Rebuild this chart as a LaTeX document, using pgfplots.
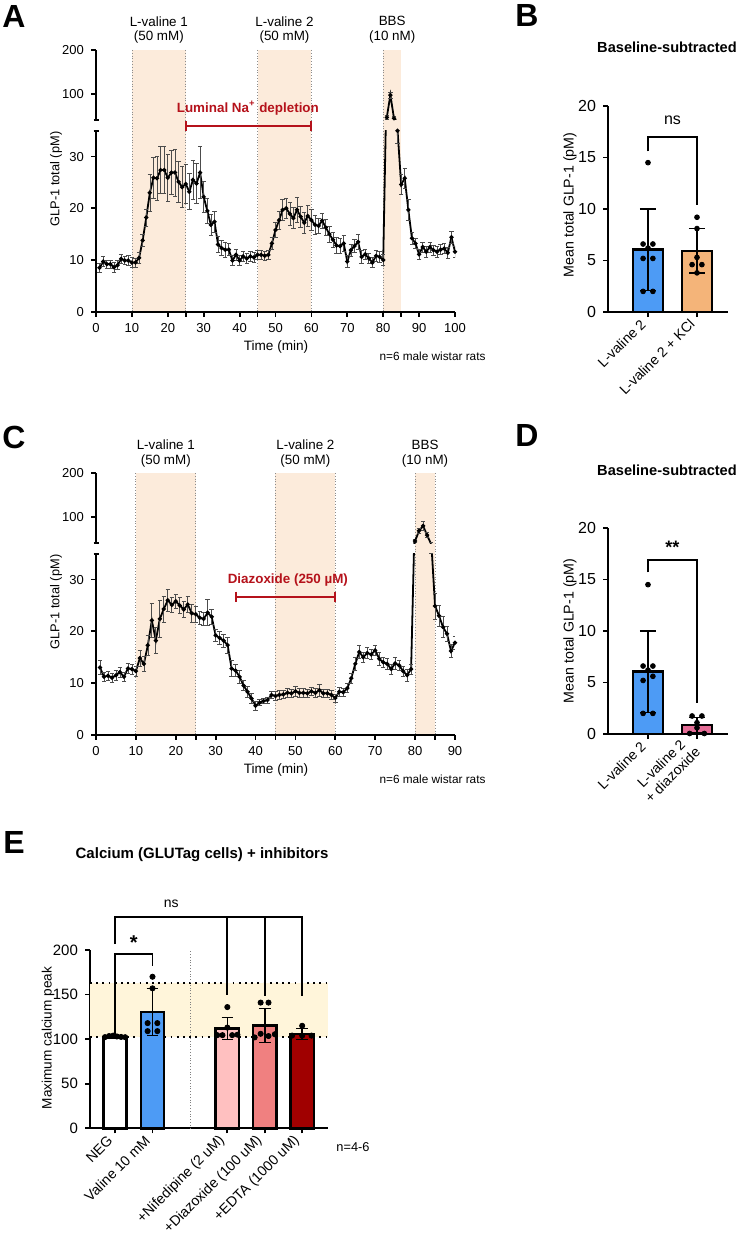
\documentclass[border=0pt]{standalone}
\usepackage{fontspec}
\setmainfont{Liberation Sans}
\usepackage{pgfplots}
\pgfplotsset{compat=1.18}
\usepackage{pgfplotstable}

\definecolor{band}{HTML}{FCEBDB}
\definecolor{redann}{HTML}{B5121B}
\definecolor{cBlue}{HTML}{4D9BF5}
\definecolor{cOrange}{HTML}{F4B479}
\definecolor{cPink}{HTML}{E46C96}
\definecolor{cNif}{HTML}{FFC0C0}
\definecolor{cDia}{HTML}{F08080}
\definecolor{cEDTA}{HTML}{A00000}
\definecolor{cYel}{HTML}{FFF5DA}
\newcommand\fs[2]{\fontsize{#1}{#2}\selectfont}

% panel A: luminal Na+ depletion, mean +- SEM per minute
\pgfplotstableread{
t v e
1 8.5 0.8
2 9.7 1.0
3 9.2 0.8
4 9.2 0.8
5 8.6 1.0
6 9.0 0.9
7 10.2 0.9
8 9.9 0.8
9 9.9 0.9
10 9.5 1.0
11 9.5 0.9
12 10.4 1.0
13 13.8 1.2
14 18.2 1.6
15 23.0 3.5
16 25.9 4.0
17 25.8 4.2
18 27.4 4.6
19 27.4 4.5
20 25.9 4.5
21 26.9 4.3
22 26.9 4.5
23 25.1 4.0
24 24.1 4.0
25 24.7 3.8
26 23.2 3.5
27 25.5 3.8
28 24.8 3.8
29 26.9 5.0
30 22.2 3.0
31 19.5 2.5
32 16.8 2.0
33 17.4 2.0
34 13.0 1.5
35 12.3 1.5
36 12.0 1.5
37 12.0 1.2
38 9.9 1.0
39 11.0 1.0
40 9.9 1.0
41 10.7 1.0
42 10.3 1.0
43 10.7 1.0
44 10.5 0.9
45 11.0 0.9
46 11.0 0.8
47 10.8 0.8
48 11.0 0.8
49 13.2 1.2
50 15.8 1.5
51 17.7 1.8
52 19.7 2.0
53 20.0 2.0
54 18.9 2.2
55 18.1 2.0
56 19.7 2.4
57 18.4 2.0
58 17.2 2.0
59 18.5 2.0
60 17.7 2.0
61 16.8 1.8
62 16.6 1.5
63 17.6 1.5
64 16.3 1.5
65 15.0 1.5
66 13.9 1.5
67 12.8 1.5
68 12.7 1.5
69 13.2 1.5
70 9.7 1.2
71 11.9 1.2
72 12.7 1.2
73 13.5 1.5
74 10.6 1.2
75 11.1 1.0
76 10.3 1.0
77 9.5 1.0
78 10.8 1.0
79 10.6 1.0
80 10.0 1.0
81 46 4
82 97 7
83 44 4
84 35 2.5
85 24.6 2.0
86 25.8 2.0
87 19.7 2.0
88 14.2 1.2
89 13.2 1.0
90 11.1 1.0
91 12.5 1.0
92 11.6 1.0
93 12.5 1.0
94 11.9 1.0
95 11.6 1.0
96 12.0 1.0
97 12.2 1.0
98 11.4 1.0
99 14.4 1.2
100 11.6 1.0
}\dataA

% panel C: diazoxide
\pgfplotstableread{
t v e
1 13.0 1.3
2 11.2 0.8
3 11.4 0.9
4 11.0 0.8
5 11.5 0.9
6 12.1 1.0
7 11.2 0.9
8 12.8 1.0
9 12.7 1.0
10 12.3 1.0
11 14.8 1.5
12 13.7 1.5
13 17.3 2.0
14 22.1 3.3
15 18.2 2.5
16 22.4 3.5
17 24.3 2.5
18 26.0 2.2
19 25.1 1.5
20 25.8 1.3
21 25.0 1.5
22 24.2 1.5
23 25.2 1.5
24 23.5 1.8
25 23.3 1.5
26 22.6 1.2
27 22.4 1.2
28 23.6 2.5
29 22.8 1.5
30 19.2 1.2
31 18.7 1.2
32 18.2 1.3
33 17.3 1.5
34 12.8 1.5
35 12.4 1.2
36 11.2 1.2
37 9.5 1.0
38 8.3 1.0
39 7.0 1.0
40 5.6 0.8
41 6.2 0.6
42 6.5 0.5
43 6.7 0.6
44 7.7 0.6
45 7.5 0.8
46 7.7 0.8
47 7.8 0.8
48 8.1 0.9
49 8.0 0.8
50 8.4 0.9
51 8.1 0.8
52 8.1 0.8
53 8.0 0.8
54 8.4 0.8
55 8.1 0.8
56 8.6 1.2
57 8.0 0.8
58 8.0 0.8
59 7.7 0.8
60 7.1 0.8
61 8.3 0.9
62 8.2 0.8
63 9.0 0.9
64 10.9 1.0
65 13.7 1.2
66 16.0 1.2
67 15.0 1.0
68 15.8 1.0
69 15.5 1.0
70 16.3 1.0
71 14.7 1.2
72 14.0 1.0
73 13.7 1.0
74 12.7 1.0
75 13.8 1.2
76 13.4 1.0
77 12.3 1.0
78 11.5 1.2
79 12.7 1.0
80 44.6 3
81 68 6
82 79 10
83 58 6
84 38 3
85 24.9 2.5
86 23.0 2.0
87 20.8 2.0
88 19.5 1.5
89 16.2 1.2
90 17.8 1.2
}\dataC

\pgfplotsset{
  base/.style={scale only axis, anchor=south west, tick align=outside,
    major tick length=2.5pt, tick style={black, line width=0.9pt},
    axis line style={black, line width=0.9pt},
    /pgf/number format/assume math mode=true},
  ts/.style={base, width=179.5pt, tick label style={font=\fs{6.5}{8}}},
  band/.style={scale only axis, anchor=south west, width=179.5pt, height=130.85pt,
    y dir=reverse, hide axis, clip=false},
  tsdata/.style={black, line width=0.9pt, mark=*, mark size=0.55pt,
    error bars/y dir=both, error bars/y explicit,
    error bars/error bar style={line width=0.35pt, black!70},
    error bars/error mark options={rotate=90, mark size=1.1pt, line width=0.35pt, black!70}},
  bar/.style={ybar, bar shift=0pt, draw=black, line width=1.2pt,
    error bars/y dir=both, error bars/y explicit,
    error bars/error bar style={line width=0.8pt, black},
    error bars/error mark options={rotate=90, mark size=4pt, line width=0.8pt, black}},
  dots/.style={only marks, mark=*, mark size=1.2pt, black},
}

\begin{document}
\begin{tikzpicture}[x=0.5pt,y=-0.5pt]
\useasboundingbox (0,0) rectangle (750,1235);

% ---------------- A ----------------
\begin{axis}[band, at={(48pt,-155.85pt)}, xmin=0, xmax=100, ymin=50, ymax=311.7]
\addplot[fill=band, draw=none] coordinates {(10,50) (25,50) (25,311.7) (10,311.7)};
\addplot[fill=band, draw=none] coordinates {(45,50) (60,50) (60,311.7) (45,311.7)};
\addplot[fill=band, draw=none] coordinates {(80,50) (85,50) (85,311.7) (80,311.7)};
\foreach \xx in {10,25,45,60,80}{
  \edef\tmp{\noexpand\addplot[densely dotted, black!45, line width=0.4pt] coordinates {(\xx,50) (\xx,311.7)};}\tmp}
\node[font=\fs{6.7}{7.3}, align=center] at (axis cs:17.5,30) {L-valine 1\\(50 mM)};
\node[font=\fs{6.7}{7.3}, align=center] at (axis cs:52.5,30) {L-valine 2\\(50 mM)};
\node[font=\fs{6.7}{7.3}, align=center] at (axis cs:82.5,30) {BBS\\(10 nM)};
\draw[redann, line width=1pt] (axis cs:25,126) -- (axis cs:60,126)
  (axis cs:25,121) -- (axis cs:25,131) (axis cs:60,121) -- (axis cs:60,131);
\node[redann, font=\bfseries\fs{6.7}{8}] at (axis cs:42.3,108) {Luminal Na\textsuperscript{+} depletion};
\end{axis}

\begin{axis}[ts, at={(48pt,-155.85pt)}, height=90.5pt, xmin=0, xmax=100, ymin=0, ymax=35,
  axis x line*=bottom, axis y line*=left, xtick={0,10,...,100}, ytick={0,10,20,30},
  extra x ticks={25,45,85}, extra x tick labels={},
  extra y ticks={35}, extra y tick labels={}, extra y tick style={tick align=center}]
\addplot[tsdata] table[x=t, y=v, y error=e] {\dataA};
\end{axis}
\begin{axis}[ts, at={(48pt,-60pt)}, height=35pt, xmin=0, xmax=100, ymin=40, ymax=200,
  axis x line=none, axis y line*=left, xtick=\empty, ytick={100,200},
  extra y ticks={40}, extra y tick labels={}, extra y tick style={tick align=center}]
\addplot[tsdata] table[x=t, y=v, y error=e] {\dataA};
\end{axis}

% ---------------- C ----------------
\begin{axis}[band, at={(48pt,-367.35pt)}, xmin=0, xmax=90, ymin=473, ymax=734.7]
\addplot[fill=band, draw=none] coordinates {(10,473) (25,473) (25,734.7) (10,734.7)};
\addplot[fill=band, draw=none] coordinates {(45,473) (60,473) (60,734.7) (45,734.7)};
\addplot[fill=band, draw=none] coordinates {(80,473) (85,473) (85,734.7) (80,734.7)};
\foreach \xx in {10,25,45,60,80,85}{
  \edef\tmp{\noexpand\addplot[densely dotted, black!45, line width=0.4pt] coordinates {(\xx,473) (\xx,734.7)};}\tmp}
\node[font=\fs{6.7}{7.3}, align=center] at (axis cs:17.5,453.5) {L-valine 1\\(50 mM)};
\node[font=\fs{6.7}{7.3}, align=center] at (axis cs:52.5,453.5) {L-valine 2\\(50 mM)};
\node[font=\fs{6.7}{7.3}, align=center] at (axis cs:82.5,453.5) {BBS\\(10 nM)};
\draw[redann, line width=1pt] (axis cs:35,596.7) -- (axis cs:60,596.7)
  (axis cs:35,591.7) -- (axis cs:35,601.7) (axis cs:60,591.7) -- (axis cs:60,601.7);
\node[redann, font=\bfseries\fs{6.7}{8}] at (axis cs:48.1,580) {Diazoxide (250 µM)};
\end{axis}

\begin{axis}[ts, at={(48pt,-367.35pt)}, height=90.5pt, xmin=0, xmax=90, ymin=0, ymax=35,
  axis x line*=bottom, axis y line*=left, xtick={0,10,...,90}, ytick={0,10,20,30},
  extra x ticks={25,45,85}, extra x tick labels={},
  extra y ticks={35}, extra y tick labels={}, extra y tick style={tick align=center}]
\addplot[tsdata] table[x=t, y=v, y error=e] {\dataC};
\end{axis}
\begin{axis}[ts, at={(48pt,-271.5pt)}, height=35pt, xmin=0, xmax=90, ymin=40, ymax=200,
  axis x line=none, axis y line*=left, xtick=\empty, ytick={100,200},
  extra y ticks={40}, extra y tick labels={}, extra y tick style={tick align=center}]
\addplot[tsdata] table[x=t, y=v, y error=e] {\dataC};
\end{axis}

% ---------------- B ----------------
\begin{axis}[base, at={(304pt,-156pt)}, width=60pt, height=103pt, axis lines*=left, clip=false,
  xmin=-0.816, xmax=1.633, ymin=0, ymax=20, ytick={0,5,...,20}, xtick={0,1},
  xticklabels={L-valine 2, L-valine 2 + KCl},
  tick label style={font=\fs{8}{9.5}},
  xticklabel style={rotate=45, anchor=east, font=\fs{7}{8}}]
\addplot[bar, fill=cBlue, /pgf/bar width=15pt] coordinates {(0,6.05) +- (0,3.95)};
\addplot[bar, fill=cOrange, /pgf/bar width=15pt] coordinates {(1,5.95) +- (0,2.15)};
\addplot[dots] coordinates {(0,14.5) (-0.1,6.6) (0.1,6.6) (0,6.2) (-0.1,5.2) (0.1,5.2) (-0.1,2.0) (0.1,2.0)};
\addplot[dots] coordinates {(1,9.2) (1,8.1) (1,5.3) (0.9,4.6) (1.1,4.6) (1,3.8)};
\draw[line width=0.9pt] (axis cs:0,15.6) |- (axis cs:1,17) -- (axis cs:1,10.4);
\node[font=\fs{8}{9}] at (axis cs:0.5,18.6) {ns};
\end{axis}

% ---------------- D ----------------
\begin{axis}[base, at={(304pt,-367pt)}, width=60pt, height=103pt, axis lines*=left, clip=false,
  xmin=-0.816, xmax=1.633, ymin=0, ymax=20, ytick={0,5,...,20}, xtick={0,1},
  xticklabels={L-valine 2, {L-valine 2\\+ diazoxide}},
  tick label style={font=\fs{8}{9.5}},
  xticklabel style={rotate=45, anchor=east, align=center, font=\fs{7}{8}}]
\addplot[bar, fill=cBlue, /pgf/bar width=15pt] coordinates {(0,6.05) +- (0,3.95)};
\addplot[bar, fill=cPink, /pgf/bar width=15pt] coordinates {(1,0.85) +- (0,0.75)};
\addplot[dots] coordinates {(0,14.5) (-0.1,6.6) (0.1,6.6) (0,6.2) (0.1,5.6) (-0.1,5.2) (-0.1,2.0) (0.1,2.0)};
\addplot[dots] coordinates {(0.9,1.75) (1.1,1.75) (1,1.1) (1,0.6) (0.85,0.05) (1.15,0.05)};
\draw[line width=0.9pt] (axis cs:0,15.7) |- (axis cs:1,16.9) -- (axis cs:1,3.0);
\node[font=\bfseries\fs{9}{10}] at (axis cs:0.5,18.1) {**};
\end{axis}

% ---------------- E ----------------
\begin{axis}[base, at={(45pt,-564.15pt)}, width=119pt, height=89.15pt, axis lines*=left, clip=false,
  xmin=-0.67, xmax=5.69, ymin=0, ymax=200, ytick={0,50,...,200}, xtick={0,1,3,4,5},
  xticklabels={NEG, Valine 10 mM, +Nifedipine (2 uM), +Diazoxide (100 uM), +EDTA (1000 uM)},
  tick label style={font=\fs{7.5}{8}},
  xticklabel style={rotate=45, anchor=east, font=\fs{7.1}{8}}]
\addplot[fill=cYel, draw=none] coordinates {(-0.67,102) (5.69,102) (5.69,163.5) (-0.67,163.5)};
\addplot[black, line width=1pt, dash pattern=on 0.9pt off 2.2pt] coordinates {(-0.67,102) (5.69,102)};
\addplot[black, line width=1pt, dash pattern=on 0.9pt off 2.2pt] coordinates {(-0.67,163.5) (5.69,163.5)};
\addplot[black!50, densely dotted, line width=0.4pt] coordinates {(2,0) (2,200)};
\addplot[bar, fill=white, /pgf/bar width=11.7pt, line width=1.4pt,
  error bars/error mark options={rotate=90, mark size=2.9pt}] coordinates {(0,102) +- (0,1)};
\addplot[bar, fill=cBlue, /pgf/bar width=11.7pt,
  error bars/error mark options={rotate=90, mark size=2.9pt}] coordinates {(1,130.5) +- (0,26)};
\addplot[bar, fill=cNif, /pgf/bar width=11.7pt,
  error bars/error mark options={rotate=90, mark size=2.9pt}] coordinates {(3,112) +- (0,12)};
\addplot[bar, fill=cDia, /pgf/bar width=11.7pt,
  error bars/error mark options={rotate=90, mark size=2.9pt}] coordinates {(4,115.5) +- (0,19.5)};
\addplot[bar, fill=cEDTA, /pgf/bar width=11.7pt,
  error bars/error mark options={rotate=90, mark size=2.9pt}] coordinates {(5,106) +- (0,6)};
\addplot[dots, mark size=1.3pt] coordinates {(-0.27,102.3) (-0.16,103.5) (-0.05,104) (0.05,103) (0.16,102.5) (0.27,102.2)};
\addplot[dots, mark size=1.3pt] coordinates {(1,170) (1,157) (0.87,118) (1.13,118) (0.87,109) (1.13,109)};
\addplot[dots, mark size=1.3pt] coordinates {(3,136) (3,113) (2.73,104.5) (2.87,104.5) (3.13,104.5) (3.27,105)};
\addplot[dots, mark size=1.3pt] coordinates {(3.89,141) (4.1,141) (3.73,102) (3.89,106) (4.1,103.5) (4.27,105.5)};
\addplot[dots, mark size=1.3pt] coordinates {(5,115) (4.73,104) (5,104) (5.25,104)};
\draw[line width=0.9pt] (axis cs:0,104.6) |- (axis cs:1,195.6) -- (axis cs:1,182.4);
\node[font=\bfseries\fs{10}{11}] at (axis cs:0.5,208) {*};
\draw[line width=0.9pt] (axis cs:0,206.6) |- (axis cs:5,237.4) -- (axis cs:5,148.4);
\draw[line width=0.9pt] (axis cs:3,237.4) -- (axis cs:3,149.6) (axis cs:4,237.4) -- (axis cs:4,148.4);
\node[font=\fs{7}{8}] at (axis cs:1.5,251.5) {ns};
\end{axis}

% ---------------- texts ----------------
\node[font=\bfseries\fs{16}{18}] at (14,16) {A};
\node[font=\bfseries\fs{16}{18}] at (527,15) {B};
\node[font=\bfseries\fs{16}{18}] at (14,437) {C};
\node[font=\bfseries\fs{16}{18}] at (527,435) {D};
\node[font=\bfseries\fs{16}{18}] at (14,842) {E};

\node[rotate=90, font=\fs{6.4}{7}] at (56,179) {GLP-1 total (pM)};
\node[rotate=90, font=\fs{6.4}{7}] at (56,602) {GLP-1 total (pM)};
\node[font=\fs{6.8}{7}] at (276,346.7) {Time (min)};
\node[font=\fs{6.8}{7}] at (276,769.5) {Time (min)};
\node[font=\fs{5.9}{7}] at (432.5,356.7) {n=6 male wistar rats};
\node[font=\fs{5.9}{7}] at (432.5,779.5) {n=6 male wistar rats};

\node[font=\bfseries\fs{7.3}{8}] at (667,47) {Baseline-subtracted};
\node[font=\bfseries\fs{7.3}{8}] at (667,470) {Baseline-subtracted};
\node[rotate=90, font=\fs{7.1}{8}] at (570,205) {Mean total GLP-1 (pM)};
\node[rotate=90, font=\fs{7.1}{8}] at (570,631) {Mean total GLP-1 (pM)};

\node[font=\bfseries\fs{7.5}{8}] at (202,855) {Calcium (GLUTag cells) + inhibitors};
\node[rotate=90, font=\fs{6.8}{8}] at (48,1038) {Maximum calcium peak};
\node[font=\fs{6.4}{7}] at (353,1147) {n=4-6};
\end{tikzpicture}
\end{document}
